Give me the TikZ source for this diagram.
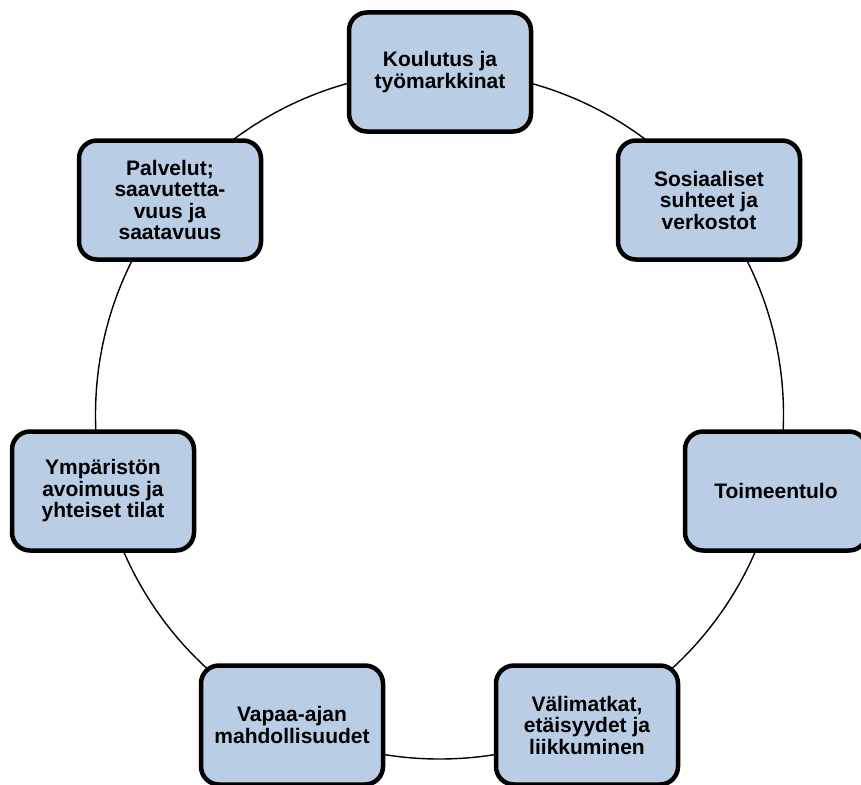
\documentclass[tikz,border=0pt]{standalone}
\usepackage{fontspec}
\setmainfont{Liberation Sans}
\definecolor{boxblue}{HTML}{B9CDE5}
\begin{document}
\begin{tikzpicture}[x=1pt,y=-1pt,
  box/.style={draw=black, line width=4.5pt, rounded corners=18pt, fill=boxblue,
    minimum width=182pt, minimum height=119pt, align=center, inner sep=2pt,
    font=\bfseries\fontsize{21}{21.5}\selectfont, text=black},
  ring/.style={draw=black, line width=1.4pt}]
\useasboundingbox (0,0) rectangle (861,784);
\clip (0,0) rectangle (861,784);
\coordinate (c) at (439.5,415);
\draw[ring] (c) circle[radius=344];
\node[box] (k) at (440,72) {Koulutus ja\\työmarkkinat};
\node[box] (s) at (709,200) {Sosiaaliset\\suhteet ja\\verkostot};
\node[box] (t) at (776,491) {Toimeentulo};
\node[box] (v) at (587,725) {Välimatkat,\\etäisyydet ja\\liikkuminen};
\node[box] (va) at (292,725) {Vapaa-ajan\\mahdollisuudet};
\node[box] (y) at (103,491) {Ympäristön\\avoimuus ja\\yhteiset tilat};
\node[box] (p) at (170,200) {Palvelut;\\saavutetta-\\vuus ja\\saatavuus};
\end{tikzpicture}
\end{document}
